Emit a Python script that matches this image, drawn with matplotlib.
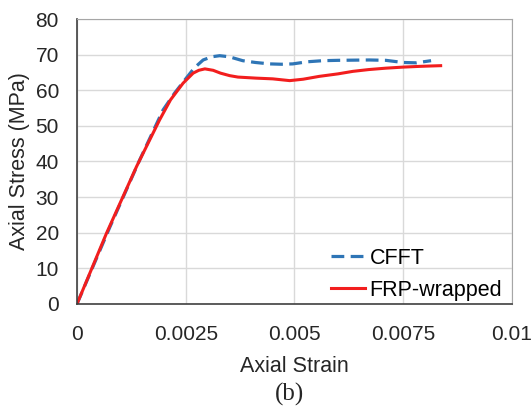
import numpy as np
import matplotlib.pyplot as plt

cfft_strain = [0, 0.00076, 0.00144, 0.00198, 0.00225, 0.00248, 0.0027, 0.0029, 0.0031,
               0.00328, 0.0035, 0.00381, 0.0041, 0.00443, 0.0047, 0.00496, 0.0053,
               0.00565, 0.006, 0.00672, 0.0071, 0.00749, 0.0078, 0.00814]
cfft_stress = [0, 21.7, 40.4, 54.5, 59.3, 62.9, 66.3, 68.5, 69.4,
               69.7, 69.4, 68.3, 67.8, 67.4, 67.3, 67.4, 68.0,
               68.3, 68.4, 68.5, 68.4, 67.8, 67.7, 68.3]

frp_strain = [0, 0.00068, 0.00137, 0.0019, 0.00215, 0.00244, 0.00267, 0.0028, 0.00294,
              0.00313, 0.0033, 0.00351, 0.0037, 0.00412, 0.0045, 0.00489, 0.0052,
              0.00557, 0.006, 0.00634, 0.0067, 0.0071, 0.0075, 0.00787, 0.0081, 0.00836]
frp_stress = [0, 19.9, 38.6, 51.7, 57.3, 62.0, 64.8, 65.6, 66.0,
              65.6, 64.8, 64.1, 63.7, 63.4, 63.2, 62.7, 63.1,
              63.9, 64.6, 65.3, 65.8, 66.2, 66.5, 66.7, 66.8, 66.9]

xticks = [0, 0.0025, 0.005, 0.0075, 0.01]
xticklabels = ['0', '0.0025', '0.005', '0.0075', '0.01']
yticks = [0, 10, 20, 30, 40, 50, 60, 70, 80]

plt.rcParams['font.family'] = ['Liberation Sans', 'DejaVu Sans']

fig = plt.figure(figsize=(5.32, 4.07), dpi=100)
ax = fig.add_axes([0.1447, 0.2531, 0.8177, 0.7002])

ax.plot(cfft_strain, cfft_stress, color='#2e75b6', lw=2.3, ls=(0, (4, 2)), label='CFFT')
ax.plot(frp_strain, frp_stress, color='#f21e1e', lw=2.2, label='FRP-wrapped')

ax.set_xlim(0, 0.01)
ax.set_ylim(0, 80)
ax.set_xticks(xticks)
ax.set_xticklabels(xticklabels)
ax.set_yticks(yticks)
ax.tick_params(length=0, labelsize=15, colors='#262626')
ax.tick_params(axis='x', pad=15)
ax.tick_params(axis='y', pad=13)
ax.grid(True, color='#d9d9d9', lw=1)
ax.set_axisbelow(True)
for s in ['top', 'right']:
    ax.spines[s].set_color('#a6a6a6')
for s in ['left', 'bottom']:
    ax.spines[s].set_color('#404040')
    ax.spines[s].set_linewidth(1.2)

ax.set_xlabel('Axial Strain', fontsize=15.5, color='#262626', labelpad=9)
ax.set_ylabel('Axial Stress (MPa)', fontsize=15.5, color='#262626', labelpad=4)

ax.legend(loc='lower right', bbox_to_anchor=(0.985, 0.0), frameon=False, fontsize=15.5,
          handlelength=1.6, handletextpad=0.2, borderaxespad=0.0, borderpad=0.15,
          labelspacing=0.5)

fig.text(0.545, 0.032, '(b)', fontsize=18, family='Liberation Serif', ha='center',
         va='center', color='#262626')

fig.savefig('out.png', dpi=100)
